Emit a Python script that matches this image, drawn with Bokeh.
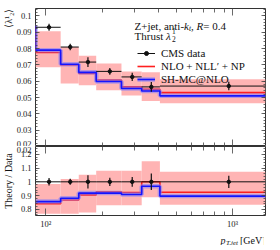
import math
from bokeh.plotting import figure
from bokeh.models import (Range1d, FixedTicker, LinearAxis, LogAxis, PrintfTickFormatter,
                          Legend, LegendItem, Label, Title)
from bokeh.layouts import column
from bokeh.embed import file_html
from bokeh.resources import INLINE

# ---------------- data ----------------
theory_edges = [65, 88, 120, 150, 186, 254, 326, 408, 1500]
data_edges = [88, 120, 150, 186, 254, 326, 408, 1500]

nlo_top = [0.0935, 0.0776, 0.0699, 0.0648, 0.0607, 0.0565, 0.0550, 0.0530]
shmc_top = [0.0935, 0.0790, 0.0704, 0.0654, 0.0598, 0.0555, 0.0540, 0.0510]
nlo_band_lo = [0.0685, 0.0585, 0.0575, 0.0545, 0.0512, 0.0478, 0.0465]
nlo_band_hi = [0.0905, 0.0810, 0.0755, 0.0708, 0.0659, 0.0655, 0.0612]
cms_top = [0.0930, 0.0809, 0.0717, 0.0660, 0.0626, 0.0565, 0.0570]
cms_err_top = [0.0022, 0.0020, 0.0030, 0.0020, 0.0025, 0.0030, 0.0026]

nlo_ratio = [0.840, 0.868, 0.905, 0.928, 0.922, 1.000, 0.924]
shmc_ratio = [0.856, 0.880, 0.918, 0.918, 0.908, 0.968, 0.896]
nlo_ratio_lo = [0.768, 0.768, 0.776, 0.830, 0.830, 0.888, 0.833]
nlo_ratio_hi = [0.984, 1.020, 1.052, 1.080, 1.080, 1.150, 1.073]
cms_ratio = [1.0, 1.0, 1.0, 1.0, 1.0, 1.0, 1.0]
cms_err_ratio = [0.027, 0.022, 0.048, 0.030, 0.036, 0.060, 0.045]

x_major_ticks = [100, 1000]
x_minor_ticks = [200, 300, 400, 500, 600, 700, 800, 900]
x_tick_labels = {100: "10²", 1000: "10³"}
y_top_ticks = [0.02, 0.03, 0.04, 0.05, 0.06, 0.07, 0.08, 0.09, 0.1]
y_top_minor = [round(0.02 + 0.002 * i, 3) for i in range(43)]
y_ratio_ticks = [0.8, 0.9, 1.0, 1.1, 1.2]
y_ratio_minor = [round(0.76 + 0.02 * i, 2) for i in range(25)]

legend_labels = ["CMS data", "NLO + NLL′ + NP", "SH-MC@NLO"]

# ---------------- style ----------------
FONT = "Liberation Serif"
PINK = "#ffb4b4"
RED = "#ff1f1f"
BLUE = "#1414ff"
LBLUE = "#7a7aff"
DARK = "#111111"
TICK = "#444444"

X_RANGE = (88, 1500)
TOP_Y = (0.02, 0.1045)
RAT_Y = (0.755, 1.257)


def style_axis(ax, show, major_in, minor_in, standoff=4):
    ax.axis_line_color = None
    ax.major_tick_in = major_in
    ax.major_tick_out = 0
    ax.minor_tick_in = minor_in
    ax.minor_tick_out = 0
    ax.major_tick_line_color = TICK
    ax.minor_tick_line_color = TICK
    ax.major_tick_line_width = 0.8
    ax.minor_tick_line_width = 0.8
    if show:
        ax.major_label_text_font = FONT
        ax.major_label_text_font_size = "8.5px"
        ax.major_label_text_color = "#222222"
        ax.major_label_standoff = standoff
    else:
        ax.major_label_text_color = None
        ax.major_label_text_font_size = "0px"
        ax.major_label_standoff = 0


def make_fig(frame_h, yr, btop, bbottom):
    p = figure(frame_width=230, frame_height=frame_h, x_axis_type="log",
               x_range=Range1d(*X_RANGE), y_range=Range1d(*yr),
               output_backend="svg", toolbar_location=None,
               x_axis_location=None, y_axis_location=None,
               min_border_left=33, min_border_right=7,
               min_border_top=btop, min_border_bottom=bbottom)
    p.grid.visible = False
    p.outline_line_color = "#333333"
    p.outline_line_width = 1
    p.background_fill_color = "white"
    p.border_fill_color = "white"
    return p


def add_x_axes(p, show_below):
    for side in ("below", "above"):
        ax = LogAxis(ticker=FixedTicker(ticks=x_major_ticks, minor_ticks=x_minor_ticks),
                     major_label_overrides=x_tick_labels)
        style_axis(ax, show_below and side == "below", 7, 4, standoff=3)
        p.add_layout(ax, side)


def add_y_axes(p, ticks, minor, overrides):
    for side in ("left", "right"):
        ax = LinearAxis(ticker=FixedTicker(ticks=ticks, minor_ticks=minor),
                        formatter=PrintfTickFormatter(format="%g"))
        if side == "left" and overrides:
            ax.major_label_overrides = overrides
        style_axis(ax, side == "left", 4, 2)
        p.add_layout(ax, side)


def lab(p, x, y, text, size="11px", style="normal", align="left",
        baseline="alphabetic", angle=0.0):
    p.add_layout(Label(x=x, y=y, x_units="screen", y_units="screen", text=text,
                       text_font=FONT, text_font_size=size, text_font_style=style,
                       text_align=align, text_baseline=baseline, angle=angle,
                       text_color="#111111"))


def side_title(p, text, align, size):
    t = Title(text=text, align=align, text_font=FONT, text_font_size=size,
              text_font_style="normal", text_color="#111111", standoff=0, offset=0)
    p.add_layout(t, "left")


def draw_panel(p, band_lo, band_hi, nlo, shmc, t_edges, cms, cms_err):
    left = data_edges[:-1]
    right = data_edges[1:]
    centers = [(a + b) / 2 for a, b in zip(left, right)]
    p.quad(left=left, right=right, bottom=band_lo, top=band_hi,
           fill_color=PINK, line_color=None)
    red_r = p.step(x=t_edges, y=list(nlo) + [nlo[-1]], mode="after",
                   line_color=RED, line_width=1.6)
    halo_r = p.step(x=t_edges, y=list(shmc) + [shmc[-1]], mode="after",
                    line_color=LBLUE, line_width=4.5, line_alpha=0.55)
    blue_r = p.step(x=t_edges, y=list(shmc) + [shmc[-1]], mode="after",
                    line_color=BLUE, line_width=1.6)
    hbar = p.segment(x0=left, x1=right, y0=cms, y1=cms, line_color=DARK, line_width=1)
    p.segment(x0=centers, x1=centers,
              y0=[v - e for v, e in zip(cms, cms_err)],
              y1=[v + e for v, e in zip(cms, cms_err)],
              line_color=DARK, line_width=1.2)
    pts = p.scatter(x=centers, y=cms, size=3.5, color=DARK)
    return red_r, halo_r, blue_r, hbar, pts


# ---------------- top panel ----------------
p1 = make_fig(138, TOP_Y, 8, 0)
add_x_axes(p1, False)
add_y_axes(p1, y_top_ticks, y_top_minor, None)
side_title(p1, "⟨λ¹₂⟩", "right", "10px")
red_r, halo_r, blue_r, hbar, pts = draw_panel(p1, nlo_band_lo, nlo_band_hi, nlo_top,
                                              shmc_top, theory_edges, cms_top, cms_err_top)
pink_dummy = p1.line(x=[], y=[], line_color=PINK, line_width=5)

legend = Legend(items=[
    LegendItem(label=legend_labels[0], renderers=[hbar, pts]),
    LegendItem(label=legend_labels[1], renderers=[pink_dummy, red_r]),
    LegendItem(label=legend_labels[2], renderers=[halo_r, blue_r]),
], location=(102, 61))
legend.background_fill_alpha = 0
legend.border_line_color = None
legend.padding = 0
legend.margin = 0
legend.spacing = 1
legend.glyph_width = 18
legend.glyph_height = 10
legend.label_height = 10
legend.label_standoff = 6
legend.label_text_font = FONT
legend.label_text_font_size = "11px"
legend.label_text_color = "#111111"
p1.add_layout(legend)

# annotation text (screen coords relative to the frame's bottom-left)
lab(p1, 99, 121, "Z+jet, anti-")
lab(p1, 148.6, 121, "k", style="italic")
lab(p1, 153.5, 118.5, "t", size="7.5px", style="italic")
lab(p1, 155.6, 121, ", ")
lab(p1, 161.1, 121, "R", style="italic")
lab(p1, 167.8, 121, " = 0.4")
lab(p1, 99, 111, "Thrust ")
lab(p1, 130.5, 111, "λ", style="italic")
lab(p1, 136.5, 115.5, "1", size="7.5px")
lab(p1, 136.5, 108, "2", size="7.5px")

# ---------------- ratio panel ----------------
p2 = make_fig(69, RAT_Y, 0, 13)
add_x_axes(p2, True)
add_y_axes(p2, y_ratio_ticks + [RAT_Y[1]], y_ratio_minor, {RAT_Y[1]: "0.02"})
side_title(p2, "Theory / Data", "center", "10px")
draw_panel(p2, nlo_ratio_lo, nlo_ratio_hi, nlo_ratio, shmc_ratio, data_edges,
           cms_ratio, cms_err_ratio)

# ---------------- x-axis title strip: p_{T,jet} [GeV] ----------------
# (its frame is aligned by the column layout with the panels' frames)
p3 = figure(width=270, height=14, output_backend="svg", toolbar_location=None,
            x_axis_location=None, y_axis_location=None,
            x_range=Range1d(0, 1), y_range=Range1d(0, 1),
            min_border_left=0, min_border_right=0, min_border_top=0, min_border_bottom=0)
p3.grid.visible = False
p3.outline_line_color = None
p3.background_fill_color = "white"
p3.border_fill_color = "white"
lab(p3, 230, 5, "[GeV]", size="10px", align="right")
lab(p3, 202.5, 2.5, "T,jet", size="7px", style="italic", align="right")
lab(p3, 190, 5, "p", size="10px", style="italic", align="right")

layout = column(p1, p2, p3, spacing=0)
open("out.html", "w").write(file_html(layout, INLINE))
